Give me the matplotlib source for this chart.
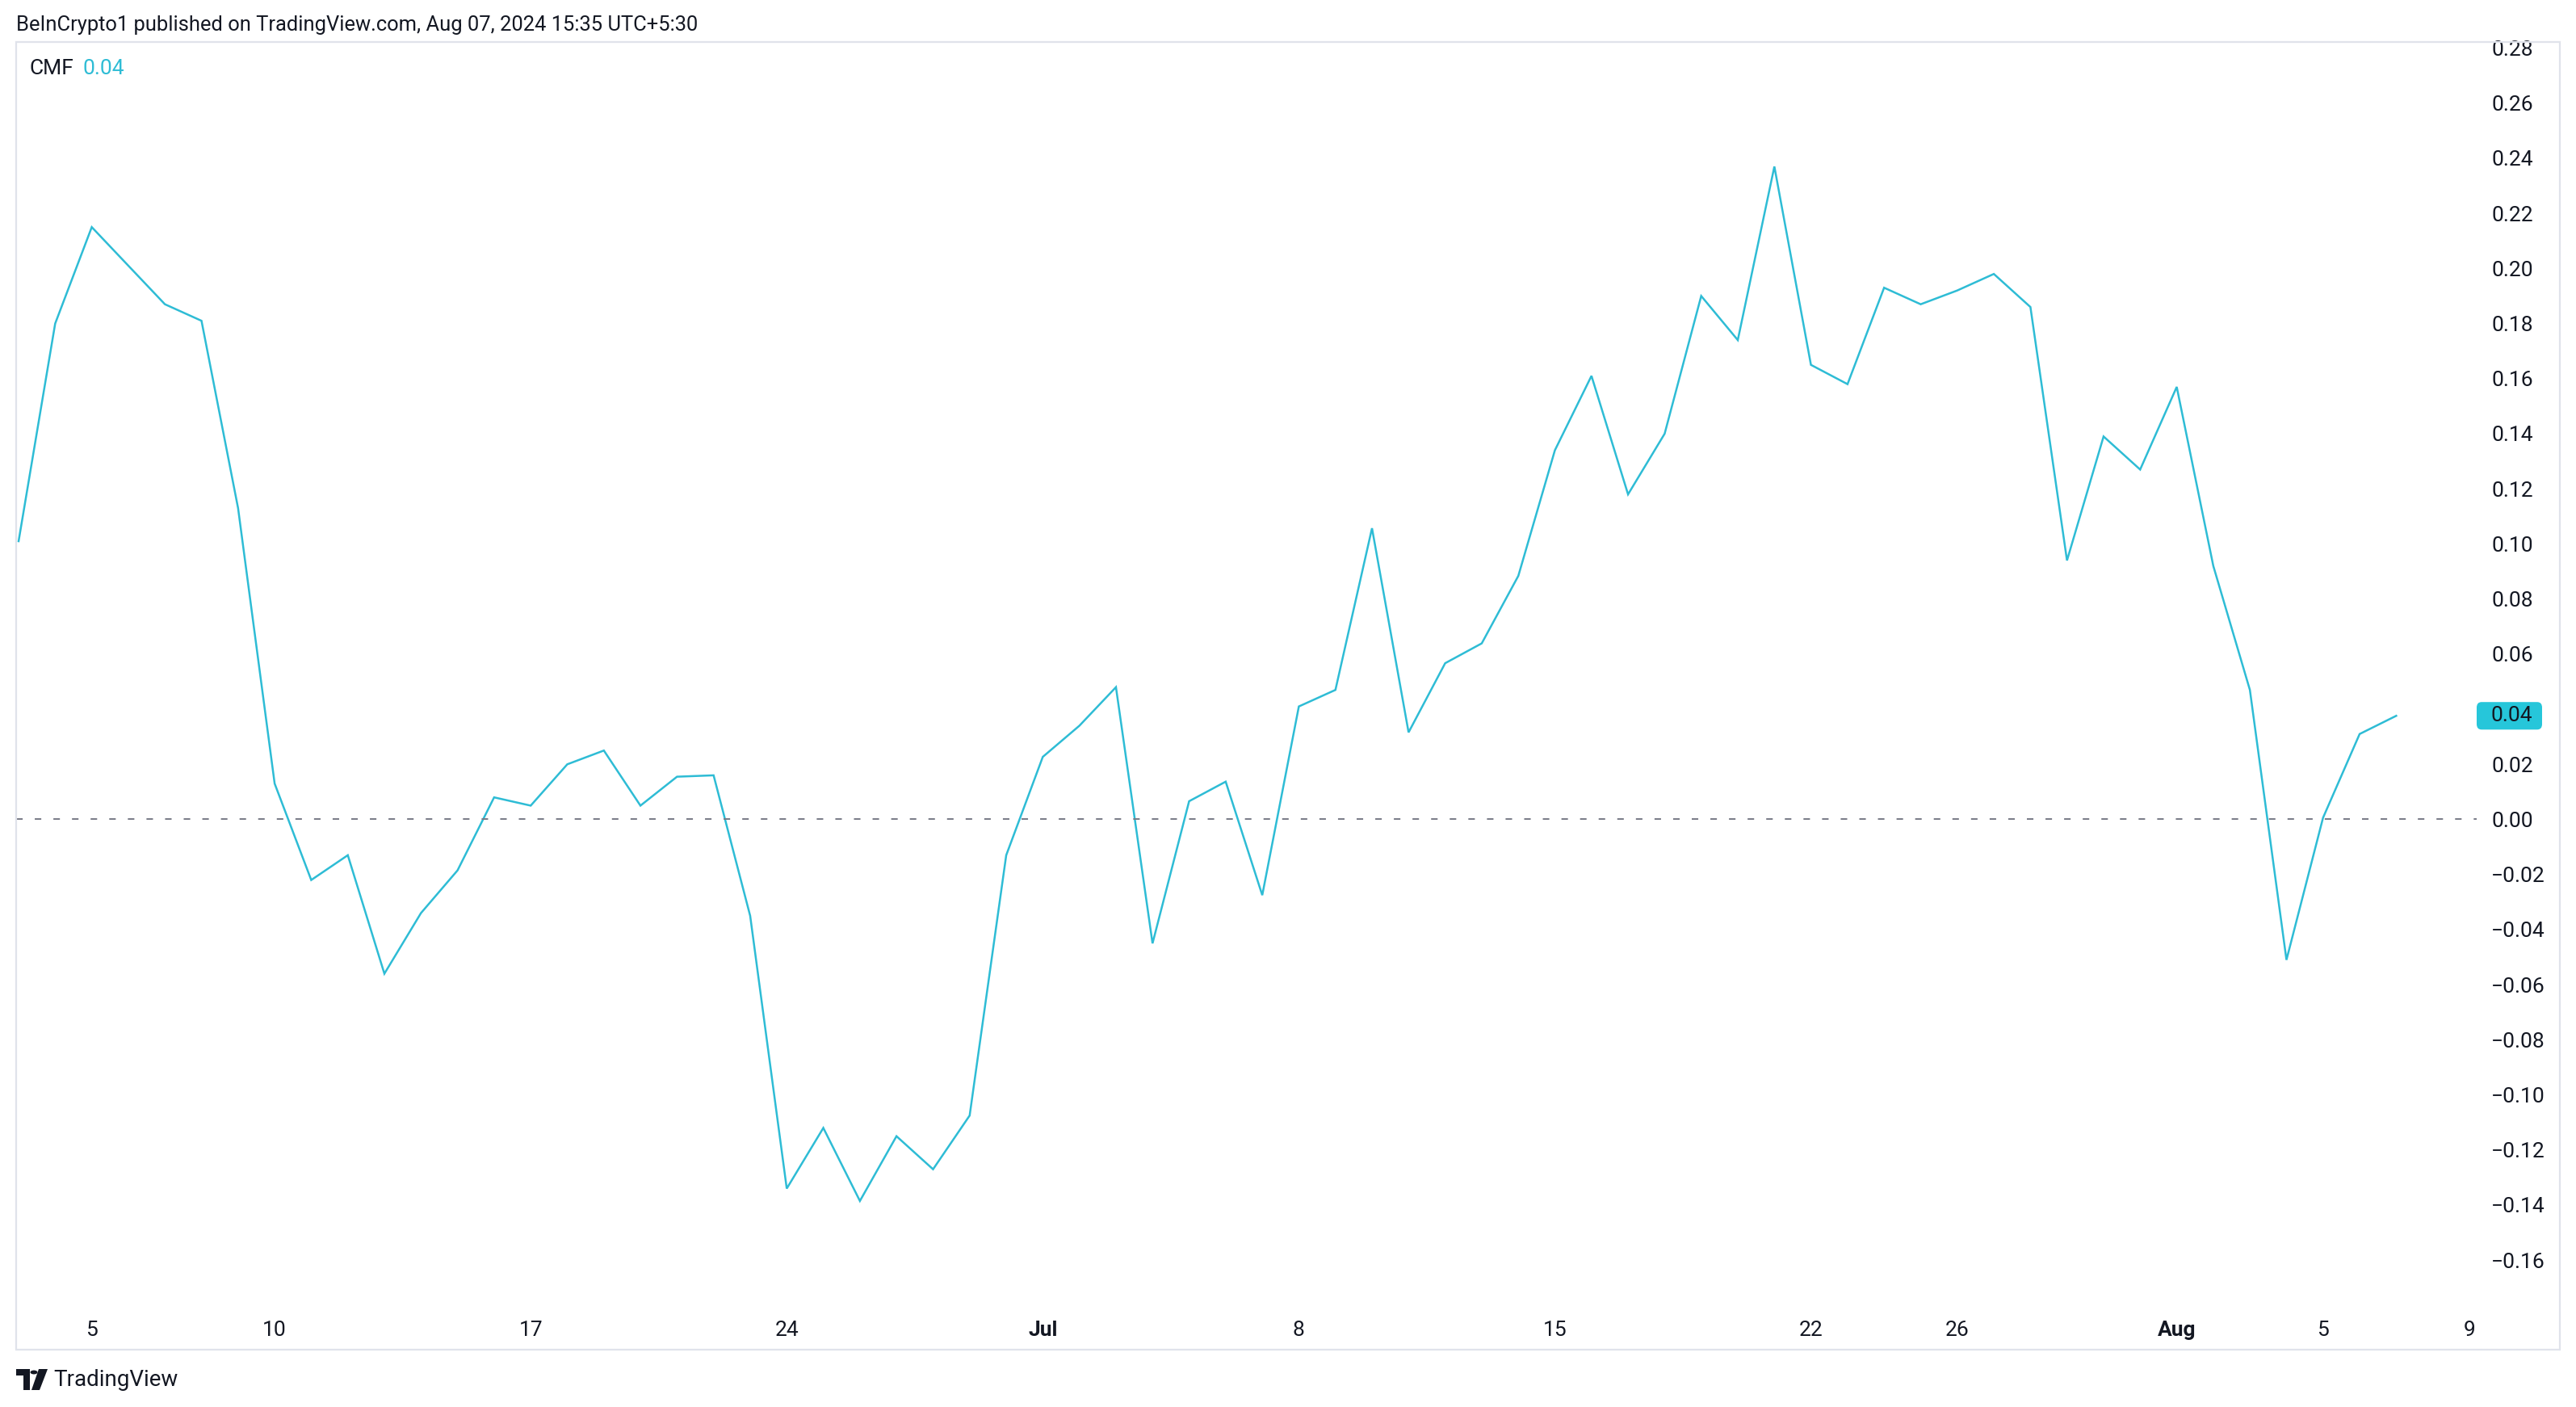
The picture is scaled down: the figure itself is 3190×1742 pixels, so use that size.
import matplotlib
matplotlib.use("Agg")
import matplotlib.pyplot as plt
import matplotlib.dates as mdates
import matplotlib.transforms as mtransforms
from matplotlib.patches import Rectangle, Circle, Polygon, FancyBboxPatch
import pandas as pd

# data (daily CMF, Jun 3 - Aug 7 2024)
dates = pd.date_range("2024-06-03", "2024-08-07", freq="D")
cmf_jun = [0.101, 0.180, 0.215, 0.201, 0.187, 0.181, 0.113, 0.013, -0.022, -0.013,
           -0.056, -0.034, -0.0185, 0.008, 0.005, 0.020, 0.025, 0.005, 0.0155, 0.016,
           -0.035, -0.134, -0.112, -0.1385, -0.115, -0.127, -0.1075, -0.013]
cmf_jul = [0.0227, 0.034, 0.048, -0.045, 0.0066, 0.0137, -0.0275, 0.041, 0.047, 0.1057,
           0.0316, 0.0567, 0.0639, 0.0884, 0.134, 0.161, 0.118, 0.140, 0.190, 0.174,
           0.237, 0.165, 0.158, 0.193, 0.187, 0.192, 0.198, 0.186, 0.094, 0.139, 0.127]
cmf_aug = [0.157, 0.092, 0.047, -0.051, 0.0006, 0.031, 0.0376]
cmf = cmf_jun + cmf_jul + cmf_aug

tick_dates = ["2024-06-05", "2024-06-10", "2024-06-17", "2024-06-24", "2024-07-01", "2024-07-08",
              "2024-07-15", "2024-07-22", "2024-07-26", "2024-08-01", "2024-08-05", "2024-08-09"]
tick_labels = ["5", "10", "17", "24", "Jul", "8", "15", "22", "26", "Aug", "5", "9"]
bold_labels = ["Jul", "Aug"]
y_ticks = [-0.16, -0.14, -0.12, -0.10, -0.08, -0.06, -0.04, -0.02, 0.00, 0.02,
           0.06, 0.08, 0.10, 0.12, 0.14, 0.16, 0.18, 0.20, 0.22, 0.24, 0.26, 0.28]

header = "BeInCrypto1 published on TradingView.com, Aug 07, 2024 15:35 UTC+5:30"
LINE = "#2ebcd5"
TEXT = "#131722"

plt.rcParams["font.family"] = ["Roboto", "DejaVu Sans"]
plt.rcParams["lines.scale_dashes"] = False

W, H, DPI = 3190, 1742, 200
fig = plt.figure(figsize=(W / DPI, H / DPI), dpi=DPI)
fig.patch.set_facecolor("white")

def fx(px):
    return px / W

def fy(py):
    return 1 - py / H

ax = fig.add_axes([fx(20), fy(1610), fx(3067) - fx(20), fy(52) - fy(1610)])
ax.plot(dates, cmf, color=LINE, lw=0.9, solid_joinstyle="miter")
ax.axhline(0, color="#787b86", lw=0.7, linestyle=(0, (2.9, 5.4)))

x0 = mdates.date2num(pd.Timestamp("2024-06-05"))
ax.set_xlim(x0 - 2.067, x0 + 65.2)
ax.set_ylim(-0.1746, 0.2822)

for s in ax.spines.values():
    s.set_visible(False)

ax.set_xticks([mdates.date2num(pd.Timestamp(d)) for d in tick_dates])
ax.set_xticklabels(tick_labels)
for lab in ax.get_xticklabels():
    if lab.get_text() in bold_labels:
        lab.set_fontweight("bold")
ax.tick_params(axis="x", length=0, pad=9, labelsize=9.5, labelcolor=TEXT)

ax.yaxis.tick_right()
ax.set_yticks(y_ticks)
ax.set_yticklabels([f"{v:.2f}".replace("-", "\u2212") for v in y_ticks])
ax.tick_params(axis="y", length=0, pad=6.5, labelsize=9.5, labelcolor=TEXT)

# last value marker on the price scale
blend = mtransforms.blended_transform_factory(ax.transAxes, ax.transData)
box_w = (3148 - 3067) / (3067 - 20)
box_h = 0.005
ax.add_patch(FancyBboxPatch((1.0, cmf[-1] - box_h), box_w, 2 * box_h,
                            boxstyle="round,pad=0,rounding_size=0.002",
                            transform=blend, clip_on=False, fc="#26c6da", ec="none", zorder=5))
ax.text(1.0 + (3085 - 3067) / (3067 - 20), cmf[-1], f"{cmf[-1]:.2f}", transform=blend,
        ha="left", va="center", fontsize=9.5, color=TEXT, zorder=6, clip_on=False)

# frame
fig.patches.append(Rectangle((fx(20), fy(1671)), fx(3170) - fx(20), fy(52) - fy(1671),
                             transform=fig.transFigure, fill=False, ec="#e0e3eb", lw=0.8))

# header and legend
fig.text(fx(20), fy(31), header, ha="left", va="center", fontsize=9.2, color=TEXT)
fig.text(fx(37), fy(85), "CMF", ha="left", va="center", fontsize=9.5, color=TEXT)
fig.text(fx(102), fy(85), f"{cmf[-1]:.2f}", ha="left", va="center", fontsize=9.5, color=LINE)

# TradingView logo
fig.patches.append(Polygon([(fx(20), fy(1695)), (fx(37), fy(1695)), (fx(37), fy(1721)),
                            (fx(29), fy(1721)), (fx(29), fy(1703)), (fx(20), fy(1703))],
                           closed=True, transform=fig.transFigure, fc=TEXT, ec="none"))
fig.patches.append(Circle((fx(42), fy(1699)), 4.5 / W, transform=fig.transFigure, fc=TEXT, ec="none"))
fig.patches.append(Polygon([(fx(48), fy(1695)), (fx(59), fy(1695)), (fx(49), fy(1721)),
                            (fx(39), fy(1721))],
                           closed=True, transform=fig.transFigure, fc=TEXT, ec="none"))
fig.text(fx(66), fy(1708), "TradingView", ha="left", va="center", fontsize=10, color=TEXT)

fig.savefig("out.png", dpi=DPI)
